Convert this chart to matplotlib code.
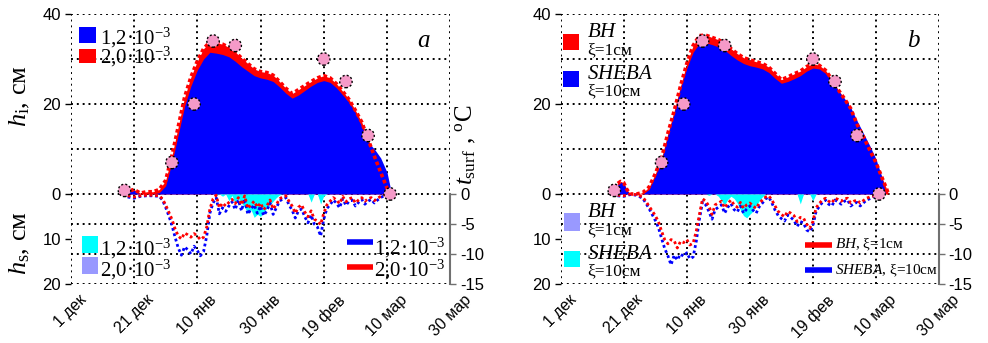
import matplotlib
matplotlib.use("Agg")
import matplotlib.pyplot as plt
from matplotlib.patches import Rectangle
from matplotlib.lines import Line2D

plt.rcParams['font.family'] = ['Liberation Sans', 'DejaVu Sans']
plt.rcParams['mathtext.fontset'] = 'custom'
plt.rcParams['mathtext.rm'] = 'Liberation Serif'
plt.rcParams['mathtext.it'] = 'Liberation Serif:italic'
plt.rcParams['mathtext.bf'] = 'Liberation Serif:bold'

SERIF = ['Liberation Serif', 'DejaVu Serif']

# ---------------- data (day 0 = 1 Dec) ----------------
date_ticks = [0, 20, 40, 60, 80, 100, 120]
date_labels = ['1 дек', '21 дек', '10 янв', '30 янв', '19 фев', '10 мар', '30 мар']

obs_day = [17, 32, 39, 45, 52, 80, 87, 94, 101]
obs_hi = [0.8, 7.0, 20.0, 34.0, 33.0, 30.0, 25.0, 13.0, 0.0]

# panel a: ice thickness, cm
hi_days_a = [17, 19, 20, 21, 22, 24, 26, 28,
             30, 32, 34, 36, 38, 40, 42, 44, 46, 48, 50, 52, 54, 56, 58, 60,
             62, 64, 66, 68, 70, 72, 74, 76, 78, 80, 82, 84, 86, 88, 90, 92,
             94, 96, 98, 100, 101, 102]
hi_a_20 = [0, 0.8, 1.0, 0.6, 0.2, 0.5, 0.5, 1.0,
           3.0, 8.5, 15.0, 21.5, 26.0, 29.5, 32.3, 33.8, 33.6, 33.3, 32.6, 31.6, 30.2, 29.0, 27.8, 27.2,
           27.0, 26.4, 25.0, 23.5, 22.3, 23.2, 24.1, 25.0, 25.8, 26.3, 25.8, 24.5, 22.8, 21.0, 18.6, 16.0,
           12.2, 8.4, 4.8, 1.3, 0, 0]
hi_a_12 = [0, 0.6, 0.8, 0.4, 0, 0, 0, 0.3,
           1.8, 7.0, 13.2, 19.5, 24.0, 27.5, 30.0, 31.5, 31.3, 31.0, 30.5, 29.5, 28.3, 27.3, 26.3, 25.8,
           25.5, 25.0, 23.8, 22.4, 21.3, 22.0, 23.0, 24.0, 24.8, 25.2, 24.8, 23.6, 22.0, 20.3, 18.0, 15.0,
           11.5, 10.0, 8.0, 4.8, 1.5, 0]

# panel b: ice thickness, cm
hi_days_b = [16, 17, 18, 19, 20, 21, 22, 24, 26,
             28, 30, 32, 34, 36, 38, 40, 42, 44, 46, 48, 50, 52, 54, 56, 58,
             60, 62, 64, 66, 68, 70, 72, 74, 76, 78, 80, 82, 84, 86, 88, 90,
             92, 94, 96, 98, 100, 102, 103, 104]
hi_b_bh = [0, 0.5, 2.3, 2.8, 2.5, 1.0, 0, 0, 0.3,
           1.5, 4.5, 8.0, 13.5, 18.5, 24.0, 29.0, 33.0, 35.2, 35.3, 34.8, 34.3, 33.5, 32.3, 31.2, 30.3,
           29.8, 29.4, 29.0, 28.2, 26.8, 25.4, 26.0, 26.7, 27.3, 28.3, 29.0, 28.6, 27.5, 25.5, 23.2, 21.2,
           19.0, 15.5, 12.8, 9.8, 7.0, 3.5, 1.8, 0]
hi_b_sheba = [0, 0.4, 2.0, 2.6, 2.3, 0.8, 0, 0, 0,
              1.0, 4.0, 7.5, 13.0, 18.0, 23.5, 28.0, 31.5, 33.5, 33.6, 33.2, 32.7, 32.0, 30.8, 29.8, 29.0,
              28.5, 28.2, 27.8, 27.0, 25.7, 24.6, 25.0, 25.6, 26.3, 27.3, 28.0, 27.8, 26.8, 25.0, 23.0, 21.2,
              19.2, 16.3, 13.5, 10.8, 7.8, 3.5, 0, 0]

# snow depth, cm
hs_days = list(range(46, 83))
hs_a_12 = [0.3, 0, 0.5, 0, 1.5, 0.3, 2.2, 1.0, 2.0, 3.0, 4.2, 3.5, 5.2, 4.5, 5.0, 4.0, 3.2, 2.4, 1.6, 0.8,
           0.2, 0, 0, 0, 0, 0, 0, 0, 0, 0, 1.8, 0, 0, 2.2, 0.4, 0, 0]
hs_a_20 = [0, 0, 0.3, 0, 1.0, 0, 1.6, 0.6, 1.4, 2.2, 3.2, 2.6, 4.0, 3.4, 3.8, 3.0, 2.3, 1.6, 1.0, 0.4,
           0, 0, 0, 0, 0, 0, 0, 0, 0, 0, 1.2, 0, 0, 1.5, 0.2, 0, 0]
hs_b_sheba = [0, 0.3, 0, 0, 0.5, 1.5, 2.4, 1.2, 0.5, 1.0, 2.0, 3.5, 4.8, 5.3, 4.5, 3.8, 2.6, 1.5, 0.6, 0,
              0, 0, 0, 0, 0, 0, 0, 0, 0, 0, 2.2, 0, 0, 0, 1.5, 0, 0]
hs_b_bh = [0, 0, 0, 0, 0.3, 1.0, 1.7, 0.8, 0.3, 0.6, 1.4, 2.6, 3.6, 4.0, 3.4, 2.8, 1.8, 1.0, 0.3, 0,
           0, 0, 0, 0, 0, 0, 0, 0, 0, 0, 1.5, 0, 0, 0, 1.0, 0, 0]

# surface temperature, deg C
t_days_a = [18, 20, 22, 24, 26, 28] + list(range(29, 101))
t_a_20 = [-0.3, -0.5, -0.3, -0.2, -0.2, -0.3,
          -0.8, -1.8, -3.0, -4.2, -5.8, -7.0, -7.5, -6.5, -6.8, -7.2, -6.6, -7.0, -7.6, -7.2, -5.5, -2.5,
          -0.8, -0.2, -2.3, -1.5, -2.0, -1.4, -0.9, -1.6, -0.6, -1.8, -0.3, -2.4, -1.8, -1.2, -2.2, -1.5,
          -2.6, -2.0, -1.0, -2.5, -1.8, -0.8, -0.5, -0.3, -1.2, -2.0, -3.2, -2.2, -1.8, -3.0, -3.8, -2.8,
          -4.2, -4.5, -5.1, -3.2, -1.8, -1.2, -0.6, -1.0, -1.6, -0.4, -1.3, -0.8, -0.6, -1.5, -1.0, -0.6,
          -1.2, -0.8, -0.6, -1.1, -0.7, -0.4, -0.2, 0.0]
t_a_12 = [-0.5, -0.7, -0.4, -0.3, -0.3, -0.4,
          -1.0, -2.2, -3.6, -5.2, -7.2, -9.0, -10.2, -8.8, -9.3, -10.0, -8.7, -9.4, -10.3, -9.6, -7.0, -3.2,
          -1.5, -0.6, -3.3, -2.3, -2.9, -2.0, -1.3, -2.6, -1.0, -2.8, -0.8, -3.4, -2.5, -1.8, -3.2, -2.0,
          -3.6, -2.8, -1.5, -3.4, -2.3, -1.2, -0.8, -0.6, -1.8, -2.7, -4.0, -2.8, -2.5, -3.8, -4.8, -3.5,
          -5.0, -5.5, -7.0, -4.2, -2.4, -1.8, -1.0, -1.5, -2.3, -0.8, -1.9, -1.2, -1.0, -2.0, -1.4, -0.9,
          -1.7, -1.2, -0.9, -1.5, -1.0, -0.6, -0.3, 0.0]

t_days_b = [18, 20, 22, 24] + list(range(26, 101))
t_b_bh = [-0.2, -0.3, 0.0, -0.1,
          -0.5, -1.2, -2.0, -2.8, -3.6, -4.6, -6.2, -7.6, -8.3, -7.6, -7.8, -9.0, -7.9, -8.1, -7.6, -8.5,
          -8.2, -6.2, -3.4, -0.8, -1.2, -2.0, -3.4, -1.8, -1.5, -1.2, -2.3, -1.6, -1.0, -1.8, -2.2, -1.4,
          -2.4, -1.8, -1.5, -2.0, -2.4, -1.5, -1.0, -0.5, -0.3, -1.0, -2.0, -2.9, -3.4, -3.8, -2.9, -3.2,
          -3.6, -4.6, -3.9, -4.0, -5.0, -5.7, -4.6, -2.3, -1.6, -1.0, -0.7, -1.2, -1.5, -0.7, -0.9, -1.2,
          -0.8, -0.7, -1.5, -1.2, -1.0, -1.5, -1.1, -0.7, -0.5, -0.4, 0.0]
t_b_sheba = [-0.3, -0.4, -0.1, -0.2,
             -0.7, -1.5, -2.4, -3.4, -4.4, -5.6, -7.4, -9.1, -10.3, -11.8, -10.2, -11.0, -10.0, -10.4, -9.8,
             -10.8, -10.5, -7.9, -4.2, -1.3, -1.8, -2.9, -4.2, -2.6, -2.2, -1.8, -3.2, -2.2, -1.6, -2.6,
             -3.0, -2.0, -3.2, -2.5, -2.0, -2.7, -3.2, -2.1, -1.5, -0.8, -0.5, -1.5, -2.7, -3.6, -4.1, -4.5,
             -3.5, -3.9, -4.4, -5.4, -4.6, -4.8, -6.0, -6.3, -5.3, -2.9, -2.1, -1.4, -1.0, -1.7, -2.0, -1.0,
             -1.3, -1.7, -1.2, -1.0, -2.0, -1.6, -1.4, -2.0, -1.5, -1.0, -0.8, -0.6, -0.2]

# ---------------- colours ----------------
C_BLUE = '#0000FF'
C_RED = '#FF0000'
C_CYAN = '#00FFFF'
C_LILAC = '#9999FF'
C_PINK = '#F59AC8'

W, H = 988, 343
fig = plt.figure(figsize=(W / 100, H / 100), dpi=100)


def fx(x):
    return x / W


def fy(y):
    return 1 - y / H


def box(x0, x1, ytop=14, ybot=284):
    return [fx(x0), fy(ybot), fx(x1) - fx(x0), fy(ytop) - fy(ybot)]


DOT = dict(color='black', lw=1.4, ls=(0, (1, 2)))


def make_panel(pos):
    ax = fig.add_axes(pos)
    ax.set_xlim(0, 120)
    ax.set_ylim(-20, 40)
    for s in ax.spines.values():
        s.set_visible(False)
    ax.set_xticks(date_ticks)
    ax.set_xticklabels(date_labels, rotation=45, ha='center', va='top', fontsize=11.5)
    ax.tick_params(axis='x', length=0, pad=6)
    ax.set_yticks([40, 20, 0, -10, -20])
    ax.set_yticklabels(['40', '20', '0', '10', '20'], fontsize=12)
    ax.tick_params(axis='y', length=4, width=1, pad=3)
    for d in date_ticks:
        ax.axvline(d, zorder=0.5, **DOT)
    for y in [40, 30, 20, 10, 0]:
        ax.axhline(y, zorder=0.5, **DOT)

    tw = ax.twinx()
    tw.set_ylim(-15, 30)
    for k, s in tw.spines.items():
        s.set_visible(k == 'right')
    tw.spines['right'].set_bounds(-15, 0)
    tw.spines['right'].set_color('#707070')
    tw.spines['right'].set_linewidth(1.5)
    tw.set_yticks([0, -5, -10, -15])
    tw.set_yticklabels(['0', '-5', '-10', '-15'], fontsize=12)
    tw.tick_params(axis='y', length=4, width=1, color='#707070', pad=3)
    for y in [-5, -10, -15]:
        tw.axhline(y, zorder=0.5, **DOT)

    top = fig.add_axes(pos, sharex=ax, sharey=ax)
    top.set_zorder(tw.get_zorder() + 1)
    top.axis('off')
    return ax, tw, top


def draw_ice(ax, days, h_back, h_front, c_back, c_front):
    ax.fill_between(days, 0, h_back, color=c_back, lw=0, zorder=1)
    ax.fill_between(days, 0, h_front, color=c_front, lw=0, zorder=1.2)
    ax.plot(days, h_back, color=c_back, lw=2.6, ls=(0, (1, 0.8)), zorder=1.3)


def draw_snow(ax, days, hs_back, hs_front, c_back, c_front):
    ax.fill_between(days, 0, [-v for v in hs_back], color=c_back, lw=0, zorder=1.4)
    ax.fill_between(days, 0, [-v for v in hs_front], color=c_front, lw=0, zorder=1.5)


def draw_temp(tw, days, t1, t2):
    tw.plot(days, t1, color=C_BLUE, lw=2.0, ls=(0, (1, 1)), zorder=3)
    tw.plot(days, t2, color=C_RED, lw=2.0, ls=(0, (1, 1)), zorder=3.1)


def draw_obs(top):
    top.scatter(obs_day, obs_hi, s=80, facecolor=C_PINK, edgecolor='black',
                linewidths=1.0, linestyle=(0, (1.5, 1.5)), zorder=5, clip_on=False)


def swatch(x0, y0, x1, y1, color):
    fig.add_artist(Rectangle((fx(x0), fy(y1)), fx(x1) - fx(x0), fy(y0) - fy(y1),
                             transform=fig.transFigure, color=color, lw=0))


def hline(x0, x1, y, color):
    fig.add_artist(Line2D([fx(x0), fx(x1)], [fy(y), fy(y)], transform=fig.transFigure,
                          color=color, lw=4, solid_capstyle='butt'))


def label(x, y, s, size, **kw):
    fig.text(fx(x), fy(y), s, fontsize=size, family=SERIF, ha='left', va='baseline', **kw)


# ---------------- panel a ----------------
axa, twa, topa = make_panel(box(70.7, 450.3))
draw_ice(axa, hi_days_a, hi_a_20, hi_a_12, C_RED, C_BLUE)
draw_snow(axa, hs_days, hs_a_20, hs_a_12, C_LILAC, C_CYAN)
draw_temp(twa, t_days_a, t_a_12, t_a_20)
draw_obs(topa)

fig.text(fx(20), fy(96), r'$h_{\rm i}$, см', rotation=90, ha='center', va='center',
         fontsize=19, family=SERIF)
fig.text(fx(20), fy(243), r'$h_{\rm s}$, см', rotation=90, ha='center', va='center',
         fontsize=19, family=SERIF)
fig.text(fx(466), fy(145), r'$t_{\rm surf}$ , $^{\rm o}$C', rotation=90, ha='center',
         va='center', fontsize=18, family=SERIF)
fig.text(fx(423), fy(47), 'a', fontsize=18, family=SERIF, style='italic', ha='center',
         va='baseline')

swatch(79, 27, 96, 43, C_BLUE)
label(100, 44, r'1,2·10$^{-3}$', 15)
swatch(79, 49, 96, 63, C_RED)
label(100, 63, r'2,0·10$^{-3}$', 15)

swatch(82, 236, 98, 253, C_CYAN)
label(100, 255, r'1,2·10$^{-3}$', 15)
swatch(82, 257, 98, 274, C_LILAC)
label(100, 276, r'2,0·10$^{-3}$', 15)

hline(347, 373, 242, C_BLUE)
label(374, 254, r'1,2·10$^{-3}$', 15)
hline(347, 373, 267, C_RED)
label(374, 276, r'2,0·10$^{-3}$', 15)

# ---------------- panel b ----------------
axb, twb, topb = make_panel(box(560.7, 939.0))
draw_ice(axb, hi_days_b, hi_b_bh, hi_b_sheba, C_RED, C_BLUE)
draw_snow(axb, hs_days, hs_b_bh, hs_b_sheba, C_LILAC, C_CYAN)
draw_temp(twb, t_days_b, t_b_sheba, t_b_bh)
draw_obs(topb)

fig.text(fx(913), fy(47), 'b', fontsize=18, family=SERIF, style='italic', ha='center',
         va='baseline')

swatch(563, 34, 579, 50, C_RED)
label(587, 37, r'$BH$', 15)
label(587, 54, 'ξ=1см', 12.5)
swatch(563, 71, 579, 87, C_BLUE)
label(587, 79, r'$SHEBA$', 15)
label(587, 95, 'ξ=10см', 12.5)

swatch(564, 213, 580, 231, C_LILAC)
label(587, 217, r'$BH$', 15)
label(587, 234, 'ξ=1см', 12.5)
swatch(564, 251, 580, 267, C_CYAN)
label(587, 259, r'$SHEBA$', 15)
label(587, 275, 'ξ=10см', 12.5)

hline(805, 832, 245, C_RED)
label(835, 248, r'$BH$, ξ=1см', 11)
hline(805, 832, 270, C_BLUE)
label(835, 274, r'$SHEBA$, ξ=10см', 11)

fig.savefig('out.png', dpi=100)
